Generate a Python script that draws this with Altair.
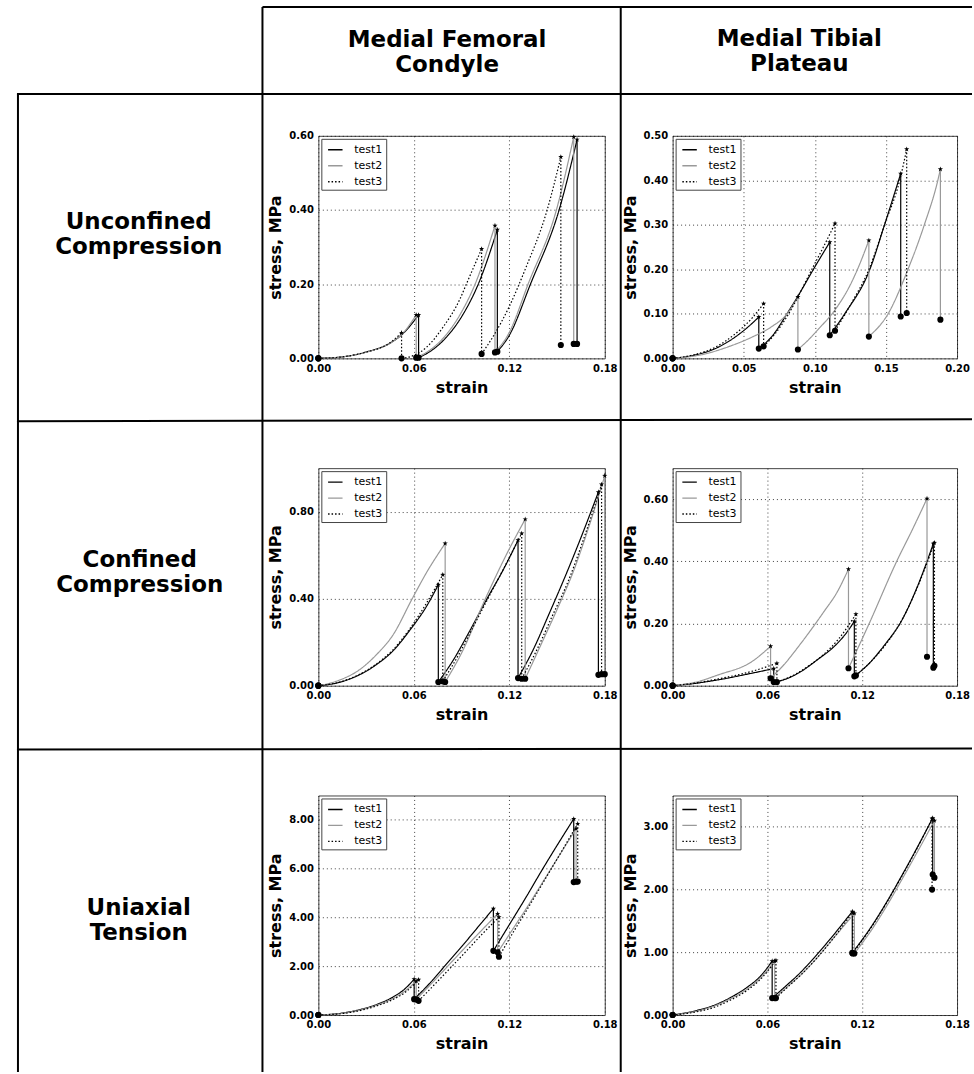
import altair as alt
import pandas as pd

FONT = "DejaVu Sans"

TEST_NAMES = ["test1", "test2", "test3"]
TEST_COLORS = ["#000000", "#999999", "#000000"]
TEST_DASHES = [[1, 0], [1, 0], [1.5, 2]]

# ---------------- Unconfined compression, medial femoral condyle ----------------
UC_MFC_T1_RAMPS = [
    [(0.015, 0.004), (0.030, 0.017), (0.045, 0.041), (0.053, 0.066), (0.063, 0.117)],
    [(0.070, 0.018), (0.080, 0.055), (0.090, 0.112), (0.1005, 0.200), (0.1125, 0.347)],
    [(0.120, 0.062), (0.1333, 0.200), (0.1513, 0.400), (0.1626, 0.590)],
]
UC_MFC_T1_RELAX = [0.002, 0.018, 0.039]
UC_MFC_T2_RAMPS = [
    [(0.015, 0.004), (0.030, 0.017), (0.045, 0.041), (0.053, 0.067), (0.0615, 0.117)],
    [(0.070, 0.022), (0.080, 0.062), (0.090, 0.125), (0.0985, 0.200), (0.111, 0.358)],
    [(0.120, 0.070), (0.1318, 0.200), (0.1496, 0.400), (0.1605, 0.597)],
]
UC_MFC_T2_RELAX = [0.002, 0.016, 0.039]
UC_MFC_T3_RAMPS = [
    [(0.015, 0.004), (0.030, 0.017), (0.045, 0.042), (0.0523, 0.069)],
    [(0.060, 0.008), (0.068, 0.030), (0.0785, 0.085), (0.089, 0.160), (0.093, 0.200), (0.1026, 0.295)],
    [(0.110, 0.060), (0.120, 0.140), (0.130, 0.240), (0.1438, 0.400), (0.1524, 0.543)],
]
UC_MFC_T3_RELAX = [0.0, 0.012, 0.036]

# ---------------- Unconfined compression, medial tibial plateau ----------------
UC_MTP_T1_RAMPS = [
    [(0.015, 0.007), (0.030, 0.022), (0.044, 0.048), (0.056, 0.079), (0.0606, 0.093)],
    [(0.070, 0.050), (0.0804, 0.100), (0.090, 0.150), (0.099, 0.200), (0.1105, 0.261)],
    [(0.121, 0.100), (0.1387, 0.200), (0.149, 0.300), (0.1604, 0.415)],
]
UC_MTP_T1_RELAX = [0.022, 0.052, 0.094]
UC_MTP_T2_RAMPS = [
    [(0.020, 0.008), (0.040, 0.027), (0.056, 0.048), (0.070, 0.072), (0.080, 0.098), (0.0881, 0.138)],
    [(0.095, 0.040), (0.1026, 0.066), (0.114, 0.108), (0.126, 0.172), (0.130, 0.200), (0.138, 0.265)],
    [(0.1515, 0.100), (0.1655, 0.200), (0.177, 0.300), (0.1865, 0.400), (0.1883, 0.425)],
]
UC_MTP_T2_RELAX = [0.020, 0.049, 0.087]
UC_MTP_T3_RAMPS = [
    [(0.015, 0.008), (0.030, 0.025), (0.044, 0.055), (0.056, 0.091), (0.064, 0.123)],
    [(0.072, 0.055), (0.0816, 0.100), (0.090, 0.150), (0.0979, 0.200), (0.106, 0.250), (0.1142, 0.303)],
    [(0.125, 0.120), (0.1387, 0.205), (0.149, 0.300), (0.1597, 0.400), (0.1646, 0.470)],
]
UC_MTP_T3_RELAX = [0.027, 0.062, 0.102]

# ---------------- Confined compression, medial femoral condyle ----------------
CC_MFC_T1_RAMPS = [
    [(0.013, 0.015), (0.0258, 0.050), (0.0363, 0.096), (0.0469, 0.160), (0.0575, 0.255), (0.068, 0.365), (0.0754, 0.464)],
    [(0.085, 0.120), (0.095, 0.250), (0.106, 0.400), (0.116, 0.530), (0.1255, 0.669)],
    [(0.135, 0.165), (0.145, 0.330), (0.155, 0.500), (0.165, 0.680), (0.176, 0.890)],
]
CC_MFC_T1_RELAX = [0.017, 0.035, 0.050]
CC_MFC_T2_RAMPS = [
    [(0.013, 0.025), (0.0258, 0.073), (0.0363, 0.141), (0.0469, 0.233), (0.059, 0.400), (0.068, 0.520), (0.0797, 0.654)],
    [(0.090, 0.150), (0.105, 0.400), (0.118, 0.600), (0.130, 0.765)],
    [(0.140, 0.190), (0.150, 0.350), (0.160, 0.520), (0.170, 0.730), (0.180, 0.965)],
]
CC_MFC_T2_RELAX = [0.017, 0.032, 0.053]
CC_MFC_T3_RAMPS = [
    [(0.013, 0.016), (0.0258, 0.052), (0.0363, 0.099), (0.0469, 0.165), (0.0575, 0.262), (0.068, 0.380), (0.0782, 0.510)],
    [(0.088, 0.140), (0.098, 0.280), (0.108, 0.420), (0.118, 0.560), (0.1278, 0.700)],
    [(0.137, 0.160), (0.147, 0.320), (0.157, 0.480), (0.167, 0.680), (0.178, 0.925)],
]
CC_MFC_T3_RELAX = [0.020, 0.032, 0.053]

# ---------------- Confined compression, medial tibial plateau ----------------
CC_MTP_T1_RAMPS = [
    [(0.015, 0.008), (0.029, 0.019), (0.050, 0.040), (0.064, 0.055)],
    [(0.072, 0.022), (0.081, 0.045), (0.092, 0.085), (0.102, 0.125), (0.110, 0.170), (0.115, 0.207)],
    [(0.125, 0.075), (0.134, 0.130), (0.145, 0.210), (0.155, 0.320), (0.165, 0.457)],
]
CC_MTP_T1_RELAX = [0.012, 0.030, 0.058]
CC_MTP_T2_RAMPS = [
    [(0.015, 0.012), (0.029, 0.035), (0.050, 0.077), (0.062, 0.127)],
    [(0.070, 0.065), (0.081, 0.135), (0.096, 0.240), (0.104, 0.300), (0.1113, 0.375)],
    [(0.1244, 0.200), (0.1418, 0.400), (0.152, 0.505), (0.161, 0.602)],
]
CC_MTP_T2_RELAX = [0.024, 0.056, 0.093]
CC_MTP_T3_RAMPS = [
    [(0.015, 0.009), (0.029, 0.022), (0.050, 0.046), (0.066, 0.072)],
    [(0.075, 0.030), (0.085, 0.060), (0.095, 0.098), (0.105, 0.150), (0.116, 0.230)],
    [(0.126, 0.080), (0.136, 0.140), (0.146, 0.220), (0.156, 0.330), (0.1657, 0.460)],
]
CC_MTP_T3_RELAX = [0.012, 0.033, 0.064]

# ---------------- Uniaxial tension, medial femoral condyle ----------------
UT_MFC_T1_RAMPS = [
    [(0.015, 0.08), (0.026, 0.22), (0.037, 0.44), (0.047, 0.74), (0.054, 1.05), (0.0602, 1.47)],
    [(0.070, 1.30), (0.080, 2.05), (0.090, 2.80), (0.100, 3.58), (0.110, 4.36)],
    [(0.120, 3.70), (0.131, 4.88), (0.140, 5.88), (0.150, 6.95), (0.1605, 8.04)],
]
UT_MFC_T1_RELAX = [0.65, 2.63, 5.45]
UT_MFC_T2_RAMPS = [
    [(0.015, 0.07), (0.026, 0.20), (0.037, 0.41), (0.047, 0.68), (0.054, 0.96), (0.0615, 1.39)],
    [(0.072, 1.35), (0.082, 2.05), (0.092, 2.75), (0.102, 3.43), (0.1127, 4.15)],
    [(0.122, 3.50), (0.132, 4.50), (0.142, 5.55), (0.152, 6.60), (0.162, 7.64)],
]
UT_MFC_T2_RELAX = [0.64, 2.57, 5.47]
UT_MFC_T3_RAMPS = [
    [(0.015, 0.06), (0.026, 0.18), (0.037, 0.38), (0.047, 0.64), (0.055, 0.95), (0.063, 1.45)],
    [(0.073, 1.25), (0.083, 1.93), (0.093, 2.62), (0.103, 3.32), (0.1135, 4.01)],
    [(0.123, 3.45), (0.133, 4.52), (0.143, 5.62), (0.153, 6.72), (0.163, 7.84)],
]
UT_MFC_T3_RELAX = [0.58, 2.39, 5.47]

# ---------------- Uniaxial tension, medial tibial plateau ----------------
UT_MTP_T1_RAMPS = [
    [(0.015, 0.07), (0.0257, 0.15), (0.036, 0.27), (0.047, 0.44), (0.056, 0.63), (0.063, 0.86)],
    [(0.072, 0.47), (0.081, 0.68), (0.0898, 0.92), (0.100, 1.22), (0.1137, 1.65)],
    [(0.125, 1.38), (0.135, 1.78), (0.145, 2.22), (0.155, 2.68), (0.1646, 3.14)],
]
UT_MTP_T1_RELAX = [0.27, 0.99, 2.24]
UT_MTP_T2_RAMPS = [
    [(0.015, 0.06), (0.026, 0.14), (0.036, 0.25), (0.047, 0.41), (0.056, 0.60), (0.0646, 0.86)],
    [(0.073, 0.46), (0.082, 0.66), (0.091, 0.90), (0.101, 1.20), (0.115, 1.62)],
    [(0.126, 1.36), (0.136, 1.76), (0.146, 2.20), (0.156, 2.65), (0.1657, 3.10)],
]
UT_MTP_T2_RELAX = [0.27, 0.98, 2.19]
UT_MTP_T3_RAMPS = [
    [(0.015, 0.05), (0.026, 0.12), (0.036, 0.23), (0.047, 0.39), (0.056, 0.58), (0.0654, 0.87)],
    [(0.073, 0.45), (0.082, 0.66), (0.091, 0.90), (0.101, 1.20), (0.114, 1.64)],
    [(0.125, 1.37), (0.135, 1.77), (0.145, 2.21), (0.155, 2.67), (0.1642, 3.13)],
]
UT_MTP_T3_RELAX = [0.27, 0.98, 2.00]

# axes
X_TICKS_018 = [0.0, 0.06, 0.12, 0.18]
X_TICKS_020 = [0.0, 0.05, 0.10, 0.15, 0.20]
UC_MFC_Y = ([0, 0.6], [0.0, 0.2, 0.4, 0.6])
UC_MTP_Y = ([0, 0.5], [0.0, 0.1, 0.2, 0.3, 0.4, 0.5])
CC_MFC_Y = ([0, 1.0], [0.0, 0.4, 0.8])
CC_MTP_Y = ([0, 0.7], [0.0, 0.2, 0.4, 0.6])
UT_MFC_Y = ([0, 9.0], [0.0, 2.0, 4.0, 6.0, 8.0])
UT_MTP_Y = ([0, 3.5], [0.0, 1.0, 2.0, 3.0])

COLUMN_HEADERS = [["Medial Femoral", "Condyle"], ["Medial Tibial", "Plateau"]]
ROW_HEADERS = [["Unconfined", "Compression"], ["Confined", "Compression"], ["Uniaxial", "Tension"]]

STAR = ("M0,-1L0.235,-0.324L0.951,-0.309L0.38,0.124L0.588,0.809L0,0.4"
        "L-0.588,0.809L-0.38,0.124L-0.951,-0.309L-0.235,-0.324Z")


def build(tests):
    lines, stars, dots = [], [], []
    for name, ramps, relax in tests:
        start = (0.0, 0.0)
        dots.append({"strain": 0.0, "stress": 0.0})
        for k, (ramp, r) in enumerate(zip(ramps, relax)):
            for x, y in [start] + list(ramp):
                lines.append({"test": name, "seg": f"{name}-r{k}", "strain": x, "stress": y})
            px, pk = ramp[-1]
            lines.append({"test": name, "seg": f"{name}-d{k}", "strain": px, "stress": pk})
            lines.append({"test": name, "seg": f"{name}-d{k}", "strain": px, "stress": r})
            stars.append({"strain": px, "stress": pk})
            dots.append({"strain": px, "stress": r})
            start = (px, r)
    return pd.DataFrame(lines), pd.DataFrame(stars), pd.DataFrame(dots)


def make_legend():
    return alt.Legend(title=None, orient="top-left", offset=3, fillColor="white",
                      strokeColor="#444444", padding=3, symbolType="stroke",
                      symbolSize=210, symbolStrokeWidth=1.4, symbolOffset=3,
                      labelFont=FONT, labelFontSize=11, labelColor="black",
                      labelFontWeight="normal", labelOffset=11, rowPadding=3)


def panel(tests, xdom, xticks, ydef, w, h, extra=None):
    lines, stars, dots = build(tests)
    ydom, yticks = ydef
    xenc = alt.X("strain:Q", scale=alt.Scale(domain=xdom, nice=False, zero=False),
                 axis=alt.Axis(values=xticks, format=".2f", title="strain"))
    yenc = alt.Y("stress:Q", scale=alt.Scale(domain=ydom, nice=False),
                 axis=alt.Axis(values=yticks, format=".2f", title="stress, MPa"))
    lg = make_legend()
    line_layer = alt.Chart(lines).mark_line(interpolate="monotone", strokeWidth=1.2).encode(
        x=xenc, y=yenc,
        color=alt.Color("test:N", scale=alt.Scale(domain=TEST_NAMES, range=TEST_COLORS), legend=lg),
        strokeDash=alt.StrokeDash("test:N", scale=alt.Scale(domain=TEST_NAMES, range=TEST_DASHES), legend=lg),
        detail="seg:N",
    )
    star_layer = alt.Chart(stars).mark_point(shape=STAR, filled=True, size=30, color="black",
                                             opacity=1).encode(x="strain:Q", y="stress:Q")
    dot_layer = alt.Chart(dots).mark_circle(size=38, color="black", opacity=1).encode(
        x="strain:Q", y="stress:Q")
    layers = [line_layer, star_layer, dot_layer] + (extra or [])
    return alt.layer(*layers).properties(width=w, height=h)


# ---------- table decoration, placed relative to the first panel's plot origin ----------
OX, OY = 318, 134
one = pd.DataFrame({"k": [0]})
HEAD_SIZE = 23
HEAD_LINE = 25


def rule(x1, y1, x2, y2, color="black", width=2):
    return alt.Chart(one).mark_rule(color=color, strokeWidth=width).encode(
        x=alt.value(x1 - OX), x2=alt.value(x2 - OX), y=alt.value(y1 - OY), y2=alt.value(y2 - OY))


def label(lines_, x, first_baseline):
    # baseline "top": the first baseline lies 0.79 * fontSize below y
    return alt.Chart(one).mark_text(
        text=lines_, font=FONT, fontSize=HEAD_SIZE, fontWeight="bold", lineHeight=HEAD_LINE,
        align="center", baseline="top", color="black",
    ).encode(x=alt.value(x - OX), y=alt.value(first_baseline - round(0.79 * HEAD_SIZE) - OY))


deco = [
    rule(0.5, 0.5, 20, 0.5, color="white", width=1),
    rule(262, 5, 973, 5),
    rule(262, 5, 262, 1072),
    rule(621, 5, 621, 1072),
    rule(16, 92, 973, 92),
    rule(16, 420, 973, 418),
    rule(16, 749, 973, 748),
    rule(17, 92, 17, 1072),
]
for (cx, by), lines_ in zip([(447, 45), (800, 44)], COLUMN_HEADERS):
    deco.append(label(lines_, cx, by))
for (cx, by), lines_ in zip([(138, 227), (139, 566), (138, 915)], ROW_HEADERS):
    deco.append(label(lines_, cx, by))

WL, WR = 287, 285
p1 = panel([("test1", UC_MFC_T1_RAMPS, UC_MFC_T1_RELAX), ("test2", UC_MFC_T2_RAMPS, UC_MFC_T2_RELAX),
            ("test3", UC_MFC_T3_RAMPS, UC_MFC_T3_RELAX)], [0, 0.18], X_TICKS_018, UC_MFC_Y, WL, 223, deco)
p2 = panel([("test1", UC_MTP_T1_RAMPS, UC_MTP_T1_RELAX), ("test2", UC_MTP_T2_RAMPS, UC_MTP_T2_RELAX),
            ("test3", UC_MTP_T3_RAMPS, UC_MTP_T3_RELAX)], [0, 0.20], X_TICKS_020, UC_MTP_Y, WR, 223)
p3 = panel([("test1", CC_MFC_T1_RAMPS, CC_MFC_T1_RELAX), ("test2", CC_MFC_T2_RAMPS, CC_MFC_T2_RELAX),
            ("test3", CC_MFC_T3_RAMPS, CC_MFC_T3_RELAX)], [0, 0.18], X_TICKS_018, CC_MFC_Y, WL, 218)
p4 = panel([("test1", CC_MTP_T1_RAMPS, CC_MTP_T1_RELAX), ("test2", CC_MTP_T2_RAMPS, CC_MTP_T2_RELAX),
            ("test3", CC_MTP_T3_RAMPS, CC_MTP_T3_RELAX)], [0, 0.18], X_TICKS_018, CC_MTP_Y, WR, 218)
p5 = panel([("test1", UT_MFC_T1_RAMPS, UT_MFC_T1_RELAX), ("test2", UT_MFC_T2_RAMPS, UT_MFC_T2_RELAX),
            ("test3", UT_MFC_T3_RAMPS, UT_MFC_T3_RELAX)], [0, 0.18], X_TICKS_018, UT_MFC_Y, WL, 220)
p6 = panel([("test1", UT_MTP_T1_RAMPS, UT_MTP_T1_RELAX), ("test2", UT_MTP_T2_RAMPS, UT_MTP_T2_RELAX),
            ("test3", UT_MTP_T3_RAMPS, UT_MTP_T3_RELAX)], [0, 0.18], X_TICKS_018, UT_MTP_Y, WR, 220)

chart = alt.concat(
    p1, p2, p3, p4, p5, p6, columns=2, bounds="flush", spacing={"row": 110, "column": 68}
).resolve_scale(
    x="independent", y="independent", color="independent", strokeDash="independent"
).resolve_legend(
    color="independent", strokeDash="independent"
).properties(
    padding=0, background="white"
).configure_view(
    stroke="#444444", strokeWidth=1
).configure_axis(
    labelFont=FONT, labelFontSize=10, labelFontWeight="bold", labelColor="black",
    titleFont=FONT, titleFontSize=16, titleFontWeight="bold", titleColor="black",
    grid=True, gridColor="black", gridDash=[1, 3], gridOpacity=0.75, gridWidth=1,
    domain=False, ticks=False, labelFlush=False, labelOverlap=False, labelPadding=5,
).configure_axisX(titlePadding=6).configure_axisY(titlePadding=5)

chart.save("out.html", embed_options={"renderer": "svg", "actions": False})
